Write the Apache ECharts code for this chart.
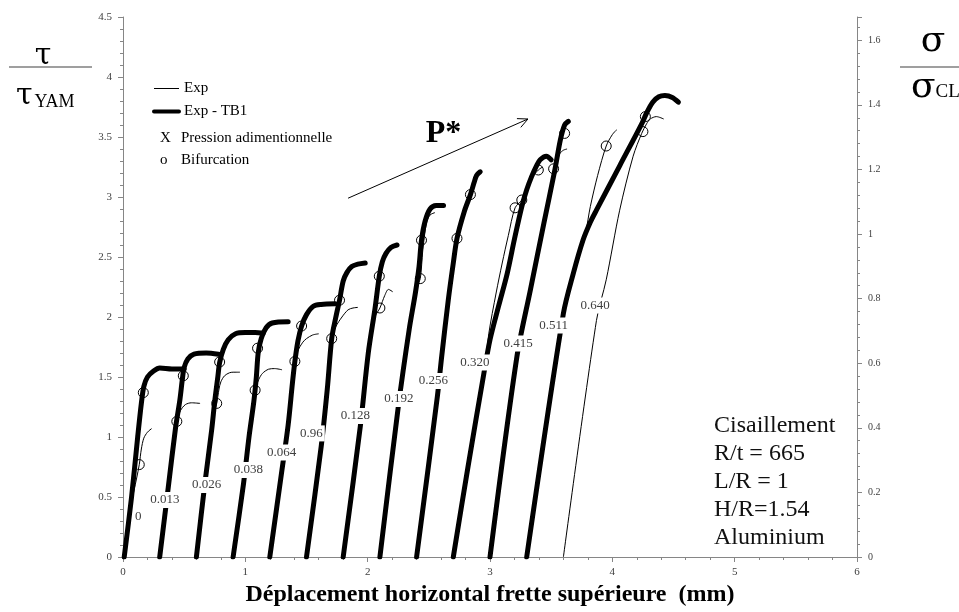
<!DOCTYPE html>
<html>
<head>
<meta charset="utf-8">
<script src="https://cdn.jsdelivr.net/npm/echarts@6/dist/echarts.min.js"></script>
<style>
  html, body { margin: 0; padding: 0; background: #fff; }
  #chart { width: 959px; height: 612px; }
</style>
</head>
<body>
<div id="chart"></div>
<script>
// Dimensionless pressure P* of each test, written in the boxed labels
const pressureLabels = ['0', '0.013', '0.026', '0.038', '0.064', '0.96', '0.128',
                        '0.192', '0.256', '0.320', '0.415', '0.511', '0.640'];
// Anchor of each boxed label [displacement mm, tau/tauYAM]
const labelPos = [[0.125, 0.336], [0.343, 0.475], [0.684, 0.60], [1.025, 0.725], [1.297, 0.87],
                  [1.54, 1.03], [1.90, 1.175], [2.256, 1.317], [2.537, 1.467], [2.877, 1.62],
                  [3.23, 1.78], [3.52, 1.93], [3.86, 2.095]];

// "Exp - TB1" curves (thick), one per test, each shifted by 0.3 mm
const tb1_0   = [[0.01,0],[0.07,0.5],[0.12,1.0],[0.15,1.28],[0.17,1.42],[0.2,1.5],[0.25,1.55],[0.3,1.575],[0.4,1.567],[0.5,1.567]];
const tb1_013 = [[0.30,0],[0.37,0.58],[0.43,1.08],[0.465,1.31],[0.485,1.48],[0.50,1.58],[0.53,1.65],[0.58,1.69],[0.68,1.70],[0.78,1.69]];
const tb1_026 = [[0.60,0],[0.67,0.62],[0.725,1.06],[0.75,1.3],[0.775,1.5],[0.79,1.62],[0.82,1.73],[0.86,1.81],[0.92,1.86],[1.0,1.87],[1.08,1.87],[1.147,1.865]];
const tb1_038 = [[0.90,0],[0.985,0.61],[1.03,1.0],[1.07,1.3],[1.09,1.5],[1.105,1.7],[1.13,1.82],[1.17,1.91],[1.22,1.95],[1.35,1.96]];
const tb1_064 = [[1.20,0],[1.30,0.73],[1.35,1.1],[1.385,1.45],[1.405,1.63],[1.43,1.80],[1.46,1.925],[1.50,2.02],[1.556,2.09],[1.62,2.105],[1.733,2.11]];
const tb1_096 = [[1.50,0],[1.62,0.92],[1.67,1.4],[1.706,1.82],[1.74,2.0],[1.77,2.14],[1.80,2.30],[1.83,2.37],[1.87,2.42],[1.92,2.44],[1.98,2.45]];
const tb1_128 = [[1.80,0],[1.94,1.09],[2.005,1.70],[2.06,2.07],[2.095,2.34],[2.12,2.46],[2.15,2.53],[2.19,2.58],[2.24,2.60]];
const tb1_192 = [[2.10,0],[2.25,1.25],[2.34,1.9],[2.39,2.2],[2.42,2.42],[2.44,2.64],[2.47,2.80],[2.51,2.90],[2.56,2.93],[2.62,2.93]];
const tb1_256 = [[2.40,0],[2.57,1.34],[2.605,1.67],[2.66,2.15],[2.70,2.45],[2.73,2.655],[2.79,2.88],[2.84,3.02],[2.87,3.12],[2.89,3.18],[2.92,3.21]];
const tb1_320 = [[2.70,0],[2.82,0.75],[2.95,1.53],[3.0,1.81],[3.07,2.09],[3.14,2.36],[3.20,2.65],[3.26,2.92],[3.30,3.06],[3.34,3.17],[3.38,3.26],[3.41,3.31],[3.46,3.34],[3.50,3.31]];
const tb1_415 = [[3.00,0],[3.22,1.67],[3.33,2.225],[3.44,2.78],[3.53,3.225],[3.575,3.475],[3.61,3.6],[3.64,3.63]];
const tb1_511 = [[3.30,0],[3.60,2.03],[3.68,2.36],[3.76,2.64],[3.82,2.79],[3.87,2.89],[4.06,3.26],[4.24,3.61],[4.28,3.70],[4.33,3.79],[4.38,3.835],[4.43,3.845],[4.49,3.83],[4.54,3.79]];

// "Exp" curves (thin)
const exp_0   = [[0.01,0],[0.07,0.45],[0.11,0.65],[0.133,0.77],[0.15,0.9],[0.17,0.99],[0.2,1.04],[0.234,1.07]];
const exp_013 = [[0.30,0],[0.37,0.57],[0.42,0.98],[0.44,1.13],[0.47,1.22],[0.51,1.27],[0.56,1.285],[0.63,1.28]];
const exp_026 = [[0.60,0],[0.67,0.6],[0.72,1.0],[0.745,1.2],[0.766,1.28],[0.785,1.4],[0.80,1.46],[0.83,1.51],[0.87,1.535],[0.90,1.54],[0.956,1.54]];
const exp_038 = [[0.90,0],[0.985,0.6],[1.03,0.98],[1.065,1.25],[1.08,1.39],[1.11,1.48],[1.14,1.53],[1.19,1.565],[1.24,1.57],[1.30,1.56]];
const exp_064 = [[1.20,0],[1.30,0.72],[1.35,1.08],[1.385,1.43],[1.405,1.63],[1.43,1.72],[1.47,1.79],[1.50,1.82],[1.55,1.85],[1.60,1.86]];
const exp_096 = [[1.50,0],[1.62,0.9],[1.67,1.38],[1.706,1.82],[1.74,1.92],[1.79,2.0],[1.84,2.06],[1.88,2.075],[1.92,2.08]];
const exp_128 = [[1.80,0],[1.94,1.08],[2.005,1.68],[2.06,2.0],[2.10,2.075],[2.14,2.18],[2.17,2.23],[2.205,2.21]];
const exp_192 = [[2.10,0],[2.25,1.24],[2.34,1.88],[2.40,2.25],[2.43,2.32],[2.45,2.55],[2.48,2.78],[2.51,2.85],[2.55,2.87]];
const exp_256 = [[2.40,0],[2.57,1.33],[2.605,1.66],[2.66,2.14],[2.70,2.44],[2.73,2.655],[2.79,2.87],[2.84,3.0],[2.87,3.1],[2.89,3.15]];
const exp_320 = [[2.70,0],[2.82,0.74],[2.95,1.5],[2.99,1.86],[3.05,2.2],[3.10,2.45],[3.15,2.68],[3.205,2.91],[3.26,2.975],[3.30,3.08],[3.34,3.16],[3.395,3.225],[3.43,3.25]];
const exp_415 = [[3.00,0],[3.22,1.66],[3.33,2.22],[3.44,2.77],[3.53,3.23],[3.57,3.36],[3.60,3.39],[3.63,3.40]];
const exp_511 = [[3.30,0],[3.60,2.02],[3.68,2.35],[3.78,2.70],[3.82,2.92],[3.88,3.18],[3.95,3.425],[4.0,3.52],[4.035,3.56]];
const exp_640 = [[3.60,0],[3.87,1.97],[3.95,2.31],[4.06,2.89],[4.17,3.34],[4.24,3.53],[4.28,3.61],[4.31,3.65],[4.36,3.67],[4.42,3.65]];

// Bifurcation points
const bifurcations = [[0.166,1.37],[0.133,0.77],[0.493,1.51],[0.44,1.13],[0.79,1.625],[0.766,1.28],
  [1.10,1.74],[1.08,1.39],[1.46,1.925],[1.405,1.63],[1.77,2.14],[1.706,1.82],[2.095,2.34],[2.10,2.075],
  [2.44,2.64],[2.43,2.32],[2.84,3.02],[2.73,2.655],[3.205,2.91],[3.26,2.975],[3.395,3.225],[3.52,3.235],
  [3.61,3.53],[3.95,3.425],[4.27,3.67],[4.25,3.545]];

const tb1Curves = [tb1_0, tb1_013, tb1_026, tb1_038, tb1_064, tb1_096, tb1_128, tb1_192, tb1_256, tb1_320, tb1_415, tb1_511];
const expCurves = [exp_0, exp_013, exp_026, exp_038, exp_064, exp_096, exp_128, exp_192, exp_256, exp_320, exp_415, exp_511, exp_640];

const serif = '"Liberation Serif", "Times New Roman", serif';
const greek = '"DejaVu Serif", serif';
const axisGrey = '#868686';
const labelGrey = '#404040';

const series = [];
tb1Curves.forEach(d => series.push({
  type: 'line', name: 'Exp - TB1', data: d, symbol: 'none', smooth: 0.3,
  itemStyle: { color: '#000' },
  lineStyle: { color: '#000', width: 5, cap: 'round', join: 'round' }, z: 2
}));
expCurves.forEach(d => series.push({
  type: 'line', name: 'Exp', data: d, symbol: 'none', smooth: 0.3,
  itemStyle: { color: '#000' },
  lineStyle: { color: '#000', width: 1 }, z: 3
}));
series.push({
  type: 'scatter', name: 'Bifurcation', data: bifurcations, symbol: 'circle', symbolSize: 10,
  itemStyle: { color: 'rgba(0,0,0,0)', borderColor: '#000', borderWidth: 1, opacity: 1 }, z: 4
});
series.push({
  type: 'scatter', name: 'Pression adimentionnelle',
  data: labelPos.map((p, i) => ({ value: p, name: pressureLabels[i] })),
  symbol: 'circle', symbolSize: 1, itemStyle: { color: '#fff', opacity: 1 },
  label: {
    show: true, position: 'inside', formatter: p => p.name, opacity: 1,
    backgroundColor: '#fff', padding: [2, 2, 1, 2],
    fontFamily: serif, fontSize: 13, color: labelGrey
  },
  z: 10
});

const axisCommon = {
  axisLine: { show: true, lineStyle: { color: axisGrey, width: 1 } },
  axisTick: { show: true, length: 5, lineStyle: { color: axisGrey } },
  minorTick: { show: true, splitNumber: 5, length: 3, lineStyle: { color: axisGrey } },
  splitLine: { show: false },
  minorSplitLine: { show: false }
};

const option = {
  animation: false,
  backgroundColor: '#fff',
  grid: { left: 123, right: 102, top: 17, bottom: 55, containLabel: false, outerBoundsMode: 'none' },
  xAxis: Object.assign({
    type: 'value', min: 0, max: 6, interval: 1,
    name: 'Déplacement horizontal frette supérieure  (mm)',
    nameLocation: 'middle', nameGap: 26,
    nameTextStyle: { fontFamily: serif, fontSize: 24, fontWeight: 'bold', color: '#000' },
    axisLabel: { fontFamily: serif, fontSize: 11, color: labelGrey, margin: 10 }
  }, axisCommon),
  yAxis: [
    Object.assign({
      type: 'value', min: 0, max: 4.5, interval: 0.5, position: 'left',
      axisLabel: { fontFamily: serif, fontSize: 11, color: labelGrey, margin: 11 }
    }, axisCommon),
    Object.assign({
      type: 'value', min: 0, max: 1.672, interval: 0.2, position: 'right',
      axisLabel: { fontFamily: serif, fontSize: 10, color: labelGrey, margin: 11, showMaxLabel: false }
    }, axisCommon)
  ],
  legend: [
    {
      data: [
        { name: 'Exp', lineStyle: { width: 1, color: '#000' } },
        { name: 'Exp - TB1', lineStyle: { width: 4, color: '#000' } }
      ],
      orient: 'vertical', left: 152, top: 81, padding: 0,
      itemWidth: 25, itemHeight: 14, itemGap: 8, selectedMode: false,
      itemStyle: { opacity: 0 },
      textStyle: { fontFamily: serif, fontSize: 15, color: '#000' }
    },
    {
      data: ['Pression adimentionnelle', 'Bifurcation'], orient: 'vertical', left: 153, top: 131, padding: 0,
      itemWidth: 1, itemHeight: 1, itemGap: 7, selectedMode: false,
      itemStyle: { opacity: 0 },
      formatter: n => (n === 'Bifurcation' ? '{m|o}' : '{m|X}') + n,
      textStyle: {
        fontFamily: serif, fontSize: 15, color: '#000',
        rich: { m: { width: 21, fontFamily: serif, fontSize: 15, color: '#000' } }
      }
    }
  ],
  series: series
};

const chart = echarts.init(document.getElementById('chart'));
chart.setOption(option);

// Annotations: axis titles, P* arrow, test description
const toPx = p => chart.convertToPixel({ xAxisIndex: 0, yAxisIndex: 0 }, p);
const a0 = toPx([1.84, 2.99]);
const a1 = toPx([3.31, 3.65]);
const ang = Math.atan2(a1[1] - a0[1], a1[0] - a0[0]);
const head = 11, spread = 0.45;
const h1 = [a1[0] - head * Math.cos(ang - spread), a1[1] - head * Math.sin(ang - spread)];
const h2 = [a1[0] - head * Math.cos(ang + spread), a1[1] - head * Math.sin(ang + spread)];
const pStar = toPx([2.62, 3.53]);

chart.setOption({
  graphic: [
    // left axis title: tau / tau_YAM
    { type: 'text', x: 43, y: 56, style: { text: 'τ', font: '30px ' + greek, fill: '#000', align: 'center', verticalAlign: 'middle' } },
    { type: 'line', shape: { x1: 9, y1: 67, x2: 92, y2: 67 }, style: { stroke: '#7f7f7f', lineWidth: 1.5 } },
    { type: 'text', x: 16, y: 111, style: {
        text: '{g|τ}{s|YAM}', verticalAlign: 'bottom',
        rich: { g: { font: '30px ' + greek, fill: '#000', verticalAlign: 'bottom' },
                s: { font: '18px ' + serif, fill: '#000', verticalAlign: 'bottom', padding: [0, 0, 0, 2] } } } },
    // right axis title: sigma / sigma_CL
    { type: 'text', x: 933, y: 42, style: { text: 'σ', font: '36px ' + greek, fill: '#000', align: 'center', verticalAlign: 'middle' } },
    { type: 'line', shape: { x1: 900, y1: 67, x2: 959, y2: 67 }, style: { stroke: '#7f7f7f', lineWidth: 1.5 } },
    { type: 'text', x: 911, y: 106, style: {
        text: '{g|σ}{s|CL}', verticalAlign: 'bottom',
        rich: { g: { font: '36px ' + greek, fill: '#000', verticalAlign: 'bottom' },
                s: { font: '19px ' + serif, fill: '#000', verticalAlign: 'bottom', padding: [0, 0, 4, 0] } } } },
    // P* arrow
    { type: 'line', shape: { x1: a0[0], y1: a0[1], x2: a1[0], y2: a1[1] }, style: { stroke: '#000', lineWidth: 1 } },
    { type: 'polyline', shape: { points: [h1, a1, h2] }, style: { stroke: '#000', lineWidth: 1, fill: null } },
    { type: 'text', x: pStar[0], y: pStar[1], style: { text: 'P*', font: 'bold 32px ' + serif, fill: '#000', align: 'center', verticalAlign: 'middle' } },
    // test description
    { type: 'text', left: 714, top: 412, style: {
        text: 'Cisaillement\nR/t = 665\nL/R = 1\nH/R=1.54\nAluminium',
        font: '24px ' + serif, lineHeight: 28, fill: '#111' } }
  ]
});
</script>
</body>
</html>
